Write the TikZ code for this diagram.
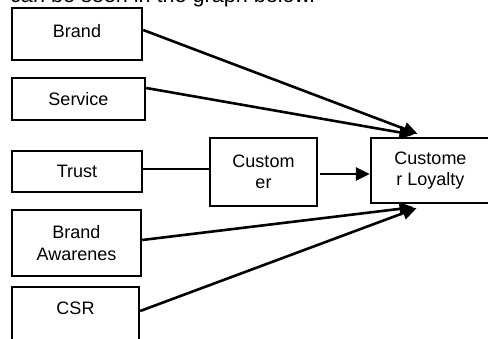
\documentclass[tikz,border=0pt]{standalone}
\usepackage{fontspec}
\setmainfont{Liberation Sans}
\usetikzlibrary{arrows.meta}

\begin{document}
\begin{tikzpicture}[
  x=1pt, y=1pt,
  box/.style={rectangle, draw=black, line width=2.4pt, inner sep=0pt,
              font=\fontsize{18}{21.5}\selectfont, align=center},
  lbl/.style={font=\fontsize{21.6}{26}\selectfont, inner sep=0pt},
  arr/.style={-{Triangle[length=14pt,width=13pt]}, line width=2.6pt, draw=black},
  link/.style={line width=1.2pt, draw=black}]
  \useasboundingbox (0,0) rectangle (488,338);
  \node[lbl, anchor=base west] (intro) at (10,335) {can be seen in the graph below.};
  \node[box, minimum width=130pt, minimum height=52pt, text depth=7pt] (brand) at (77,304) {Brand};
  \node[box, minimum width=133pt, minimum height=42pt] (service) at (78.5,239) {Service};
  \node[box, minimum width=130pt, minimum height=41pt] (trust) at (77,166.5) {Trust};
  \node[box, minimum width=129pt, minimum height=66pt] (aware) at (76.5,95) {Brand\\Awarenes};
  \node[box, minimum width=127pt, minimum height=54pt, text depth=11pt] (csr) at (75.5,24) {CSR};
  \node[box, minimum width=107pt, minimum height=68pt] (cust) at (263.5,166) {Custom\\er};
  \node[box, minimum width=119pt, minimum height=65pt] (loyal) at (430.5,167.5) {Custome\\r Loyalty};
  \draw[arr] ([yshift=4pt]brand.east) -- ([xshift=-13pt,yshift=3pt]loyal.north);
  \draw[arr] ([yshift=11pt]service.east) -- ([xshift=-17pt,yshift=2pt]loyal.north);
  \draw[link] ([yshift=2.5pt]trust.east) -- ([yshift=3pt]cust.west);
  \draw[arr] ([xshift=2pt,yshift=-2pt]cust.east) -- ([yshift=-3.5pt]loyal.west);
  \draw[arr] ([yshift=3pt]aware.east) -- ([xshift=-17pt,yshift=-3pt]loyal.south);
  \draw[arr] ([yshift=3pt]csr.east) -- ([xshift=-14pt,yshift=-4pt]loyal.south);
\end{tikzpicture}
\end{document}
